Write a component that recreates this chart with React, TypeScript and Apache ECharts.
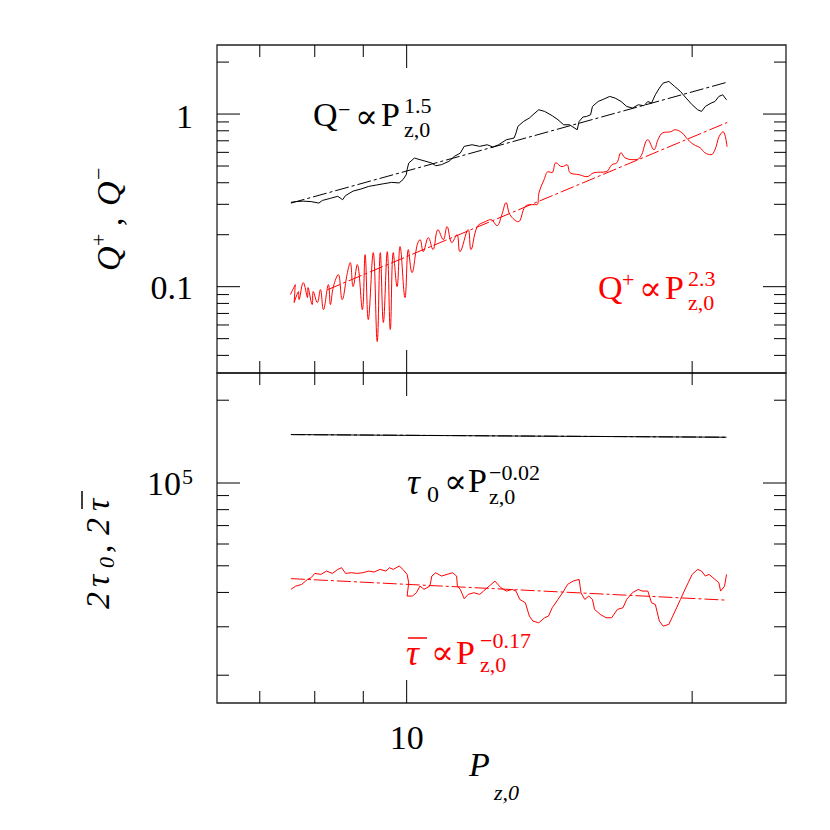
import { useEffect, useRef } from 'react';
import * as echarts from 'echarts';

const FONT = '"Liberation Serif", "DejaVu Serif", serif';
const RED = '#ff0000';
const BLACK = '#000000';

// axis ranges (log axes)
const xRange = [6.30957, 25.1189];
const qRange = [0.0316228, 2.51189];
const tauRange = [15848.9, 251189];

// ticks
const xMinorTicks = [7, 8, 9, 20];
const xMajorTicks = [10];
const xMajorLabels = ['10'];
const qMinorTicks = [0.04, 0.05, 0.06, 0.07, 0.08, 0.09, 0.2, 0.3, 0.4, 0.5, 0.6, 0.7, 0.8, 0.9, 2];
const qMajorTicks = [0.1, 1];
const qMajorLabels = ['0.1', '1'];
const tauMinorTicks = [20000, 30000, 40000, 50000, 60000, 70000, 80000, 90000, 200000];
const tauMajorTicks = [100000];

// Q- (black) data
const qMinusData: [number, number][] = [
  [7.55, 0.308], [7.64, 0.311], [7.78, 0.313], [7.93, 0.311], [8.08, 0.305], [8.15, 0.316], [8.31, 0.325],
  [8.46, 0.334], [8.56, 0.319], [8.62, 0.337], [8.78, 0.358], [8.95, 0.368], [9.12, 0.381], [9.29, 0.388],
  [9.46, 0.395], [9.64, 0.402], [9.82, 0.399], [9.91, 0.417], [9.99, 0.445], [10.01, 0.476], [10.05, 0.52],
  [10.19, 0.556], [10.33, 0.544], [10.48, 0.532], [10.63, 0.52], [10.73, 0.502], [10.88, 0.509], [11.08, 0.532],
  [11.23, 0.569], [11.39, 0.594], [11.5, 0.65], [11.72, 0.664], [11.94, 0.65], [12.16, 0.664], [12.33, 0.644],
  [12.5, 0.664], [12.74, 0.71], [12.98, 0.726], [13.04, 0.776], [13.1, 0.848], [13.28, 0.906], [13.47, 0.948],
  [13.59, 0.991], [13.78, 1.059], [13.98, 1.036], [14.24, 0.978], [14.44, 0.927], [14.64, 0.867], [14.85, 0.867],
  [15.13, 0.811], [15.2, 0.906], [15.34, 0.961], [15.48, 0.969], [15.63, 0.991], [15.7, 1.107], [15.92, 1.183],
  [16.14, 1.221], [16.37, 1.265], [16.59, 1.237], [16.83, 1.183], [17.06, 1.107], [17.3, 1.083], [17.55, 1.132],
  [17.79, 1.117], [17.96, 1.183], [18.12, 1.157], [18.29, 1.293], [18.47, 1.413], [18.64, 1.511], [18.9, 1.545],
  [19.17, 1.445], [19.44, 1.352], [19.71, 1.237], [20.0, 1.132], [20.27, 1.059], [20.46, 1.036], [20.65, 1.107],
  [20.94, 1.157], [21.14, 1.183], [21.34, 1.265], [21.54, 1.293], [21.74, 1.21],
];
const qMinusFit: [number, number][] = [[7.55, 0.305], [21.78, 1.53]];

// Q+ (red) data
const qPlusData: [number, number][] = [
  [7.54, 0.09], [7.63, 0.1028], [7.61, 0.0809], [7.69, 0.0937], [7.7, 0.0842], [7.78, 0.1056], [7.86, 0.0865],
  [7.87, 0.0988], [7.95, 0.0788], [7.97, 0.0937], [8.05, 0.0809], [8.11, 0.0962], [8.17, 0.0737], [8.27, 0.1028],
  [8.31, 0.0788], [8.37, 0.1001], [8.47, 0.1175], [8.55, 0.0842], [8.66, 0.1207], [8.72, 0.1379], [8.78, 0.1001],
  [8.87, 0.1342], [8.98, 0.0737], [9.04, 0.1533], [9.11, 0.0645], [9.22, 0.1575], [9.31, 0.0481], [9.38, 0.1575],
  [9.45, 0.062], [9.54, 0.1596], [9.61, 0.0565], [9.68, 0.1575], [9.77, 0.1001], [9.84, 0.1706], [9.96, 0.0865],
  [10.04, 0.164], [10.13, 0.1207], [10.26, 0.1753], [10.33, 0.1873], [10.41, 0.1596], [10.54, 0.1924],
  [10.66, 0.164], [10.79, 0.214], [10.93, 0.1873], [11.03, 0.2228], [11.16, 0.18], [11.3, 0.2002], [11.38, 0.1596],
  [11.61, 0.214], [11.69, 0.164], [11.87, 0.2228], [12.1, 0.238], [12.27, 0.2445], [12.45, 0.2258], [12.6, 0.2614],
  [12.73, 0.3067], [12.85, 0.2614], [13.11, 0.238], [13.33, 0.2907], [13.53, 0.2986], [13.72, 0.2986],
  [13.79, 0.3504], [13.96, 0.4168], [14.1, 0.4636], [14.23, 0.4574], [14.37, 0.5226], [14.58, 0.4955],
  [14.76, 0.5088], [14.87, 0.4574], [15.2, 0.4454], [15.49, 0.4337], [15.76, 0.4574], [16.23, 0.4636],
  [16.46, 0.5088], [16.66, 0.5226], [16.83, 0.597], [16.99, 0.5587], [17.33, 0.544], [17.62, 0.5587],
  [17.96, 0.71], [18.23, 0.6215], [18.41, 0.71], [18.63, 0.7795], [18.99, 0.7901], [19.18, 0.8112],
  [19.51, 0.7795], [19.8, 0.71], [20.09, 0.6643], [20.39, 0.6383], [20.63, 0.597], [20.94, 0.5813],
  [21.14, 0.6215], [21.35, 0.7389], [21.56, 0.7901], [21.77, 0.6468],
];
const qPlusFit: [number, number][] = [[8.25, 0.096], [21.78, 0.894]];

// tau_0 (black)
const tau0Data: [number, number][] = [
  [7.55, 150000], [10.0, 149000], [13.0, 148200], [16.0, 147600], [19.0, 147100], [21.74, 146700],
];
const tau0Fit: [number, number][] = [[7.55, 150000], [21.74, 146700]];

// tau-bar (red)
const tauBarData: [number, number][] = [
  [7.55, 41030], [7.64, 42190], [7.75, 42780], [7.86, 44610], [7.93, 45240], [8.0, 46910], [8.12, 46520],
  [8.23, 47830], [8.35, 46910], [8.46, 48510], [8.54, 49200], [8.62, 46910], [8.74, 47180], [8.87, 46910],
  [8.99, 47180], [9.12, 47830], [9.24, 47440], [9.37, 48510], [9.51, 47830], [9.59, 49200], [9.68, 48510],
  [9.82, 49890], [9.91, 48510], [10.01, 46520], [10.05, 43390], [10.01, 38800], [10.14, 38800], [10.24, 39900],
  [10.33, 42190], [10.43, 41030], [10.58, 42190], [10.63, 45880], [10.73, 47180], [10.88, 45880], [11.03, 46520],
  [11.18, 47180], [11.29, 45880], [11.31, 42190], [11.39, 41030], [11.5, 37940], [11.61, 39340], [11.77, 39900],
  [11.94, 39340], [12.05, 40460], [12.22, 42190], [12.39, 43990], [12.57, 41610], [12.74, 40460], [12.92, 41030],
  [13.04, 40460], [13.16, 37730], [13.34, 36690], [13.47, 32810], [13.59, 31460], [13.78, 31030], [13.98, 32360],
  [14.11, 32810], [14.24, 35190], [14.44, 37730], [14.64, 40460], [14.78, 42780], [14.98, 43990], [15.2, 44610],
  [15.27, 39900], [15.41, 37730], [15.56, 38800], [15.7, 37730], [15.78, 34700], [16.0, 33280], [16.23, 32360],
  [16.45, 32360], [16.68, 34700], [16.91, 35190], [17.06, 37730], [17.3, 39900], [17.55, 41030], [17.71, 40460],
  [17.96, 40460], [18.12, 36690], [18.29, 36180], [18.47, 31460], [18.64, 30170], [18.9, 30600], [19.08, 32810],
  [19.26, 35190], [19.44, 37730], [19.62, 40460], [19.81, 43390], [20.0, 46520], [20.27, 48510], [20.46, 47830],
  [20.65, 45880], [20.84, 46520], [21.14, 44610], [21.34, 43390], [21.43, 40460], [21.64, 42190], [21.74, 46520],
];
const tauBarFit: [number, number][] = [[7.55, 44900], [21.74, 37500]];

const font = (s: number, it?: boolean) => `${it ? 'italic ' : ''}${s}px ${FONT}`;

function textEl(t: string, x: number, y: number, s: number, color: string, it?: boolean, align = 'left', lineHeight?: number) {
  const style: any = {
    text: t,
    fill: color,
    font: font(s, it),
    align,
    verticalAlign: 'middle',
    textAlign: align,
    textVerticalAlign: 'middle',
  };
  if (lineHeight) style.lineHeight = lineHeight;
  return { type: 'text', x, y, silent: true, style };
}

function xTicks(grid: number, ticks: number[], len: number, yr: number[], labels?: string[]) {
  return {
    type: 'custom',
    coordinateSystem: 'cartesian2d',
    xAxisIndex: grid,
    yAxisIndex: grid,
    silent: true,
    z: 5,
    data: ticks.map((v) => [v, yr[0]]),
    renderItem: (params: any, api: any) => {
      const v = api.value(0);
      const b = api.coord([v, yr[0]]);
      const t = api.coord([v, yr[1]]);
      const children: any[] = [
        { type: 'line', shape: { x1: b[0], y1: b[1], x2: b[0], y2: b[1] - len }, style: { stroke: BLACK, lineWidth: 1 } },
        { type: 'line', shape: { x1: t[0], y1: t[1], x2: t[0], y2: t[1] + len }, style: { stroke: BLACK, lineWidth: 1 } },
      ];
      if (labels) children.push(textEl(labels[params.dataIndex], b[0], b[1] + 34, 34, BLACK, false, 'center'));
      return { type: 'group', children };
    },
  };
}

type LP = { t: string; dx: number; dy: number; s: number; a: string };

function yTicks(grid: number, ticks: number[], len: number, labels?: LP[][]) {
  return {
    type: 'custom',
    coordinateSystem: 'cartesian2d',
    xAxisIndex: grid,
    yAxisIndex: grid,
    silent: true,
    z: 5,
    data: ticks.map((v) => [xRange[0], v]),
    renderItem: (params: any, api: any) => {
      const v = api.value(1);
      const l = api.coord([xRange[0], v]);
      const r = api.coord([xRange[1], v]);
      const children: any[] = [
        { type: 'line', shape: { x1: l[0], y1: l[1], x2: l[0] + len, y2: l[1] }, style: { stroke: BLACK, lineWidth: 1 } },
        { type: 'line', shape: { x1: r[0], y1: r[1], x2: r[0] - len, y2: r[1] }, style: { stroke: BLACK, lineWidth: 1 } },
      ];
      if (labels) {
        labels[params.dataIndex].forEach((p) => children.push(textEl(p.t, l[0] + p.dx, l[1] + p.dy, p.s, BLACK, false, p.a)));
      }
      return { type: 'group', children };
    },
  };
}

function lineSeries(grid: number, data: [number, number][], color: string, dashed: boolean, smooth: number | boolean = false) {
  return {
    type: 'line',
    xAxisIndex: grid,
    yAxisIndex: grid,
    data,
    symbol: 'none',
    showSymbol: false,
    smooth,
    clip: true,
    silent: true,
    z: dashed ? 3 : 2,
    lineStyle: { color, width: 1, type: dashed ? [14, 3, 3, 3] : 'solid' },
  };
}

// [text, left x, center y, size, italic]
type Piece = [string, number, number, number, boolean?];
const mathText = (pieces: Piece[], color: string) => pieces.map((p) => textEl(p[0], p[1], p[2], p[3], color, p[4]));
// stacked superscript / subscript: [sup, sub, left x, center y]
type Stack = [string, string, number, number];
const stackText = (s: Stack, color: string, size = 22, lh = 24) => textEl(`${s[0]}\n${s[1]}`, s[2], s[3], size, color, false, 'left', lh);

const annoQMinus: Piece[] = [['Q', 313, 114, 34], ['−', 338, 109, 22], ['∝', 355, 116, 34], ['P', 381, 114, 34]];
const annoQMinusScript: Stack = ['1.5', 'z,0', 404, 117];
const annoQPlus: Piece[] = [['Q', 598, 287, 34], ['+', 622, 279, 22], ['∝', 639, 288, 34], ['P', 665, 287, 34]];
const annoQPlusScript: Stack = ['2.3', 'z,0', 688, 290];
const annoTau0: Piece[] = [['τ', 407, 482, 36, true], ['0', 427, 494, 24], ['∝', 444, 481, 34], ['P', 468, 480, 34]];
const annoTau0Script: Stack = ['−0.02', 'z,0', 489, 484];
const annoTauBar: Piece[] = [['τ', 406, 653, 36, true], ['∝', 431, 652, 34], ['P', 456, 652, 34]];
const annoTauBarScript: Stack = ['−0.17', 'z,0', 480, 652];
const xTitle: Piece[] = [['P', 469, 764, 34, true], ['z,0', 494, 792, 22, true]];

const qTitleLocal: Piece[] = [['Q', -56, 0, 34, true], ['+', -31, -10, 22], [',', -11, 2, 34], ['Q', 9, 0, 34, true], ['−', 35, -10, 22]];
const tauTitleLocal: Piece[] = [['2', -66, 0, 34, true], ['τ', -44, 0, 34, true], ['0', -25, 9, 22, true], [',', -10, 2, 34], ['2', 8, 0, 34, true], ['τ', 32, 0, 34, true]];

const option: any = {
  animation: false,
  backgroundColor: '#ffffff',
  textStyle: { fontFamily: FONT },
  grid: [
    { left: 217, top: 45, width: 569, height: 328, show: true, borderColor: '#222', borderWidth: 1.3, backgroundColor: 'transparent' },
    { left: 217, top: 373, width: 569, height: 330, show: true, borderColor: '#222', borderWidth: 1.3, backgroundColor: 'transparent' },
  ],
  xAxis: [0, 1].map((g) => ({
    type: 'log', logBase: 10, gridIndex: g, min: xRange[0], max: xRange[1],
    axisLine: { show: false }, axisTick: { show: false }, axisLabel: { show: false }, splitLine: { show: false },
  })),
  yAxis: [
    { type: 'log', logBase: 10, gridIndex: 0, min: qRange[0], max: qRange[1], axisLine: { show: false }, axisTick: { show: false }, axisLabel: { show: false }, splitLine: { show: false } },
    { type: 'log', logBase: 10, gridIndex: 1, min: tauRange[0], max: tauRange[1], axisLine: { show: false }, axisTick: { show: false }, axisLabel: { show: false }, splitLine: { show: false } },
  ],
  series: [
    lineSeries(0, qMinusData, BLACK, false),
    lineSeries(0, qMinusFit, BLACK, true),
    lineSeries(0, qPlusData, RED, false, 0.4),
    lineSeries(0, qPlusFit, RED, true),
    lineSeries(1, tau0Data, BLACK, false),
    lineSeries(1, tau0Fit, BLACK, true),
    lineSeries(1, tauBarData, RED, false),
    lineSeries(1, tauBarFit, RED, true),
    xTicks(0, xMinorTicks, 12, qRange),
    xTicks(0, xMajorTicks, 23, qRange),
    xTicks(1, xMinorTicks, 12, tauRange),
    xTicks(1, xMajorTicks, 23, tauRange, xMajorLabels),
    yTicks(0, qMinorTicks, 12),
    yTicks(0, qMajorTicks, 23, [
      [{ t: qMajorLabels[0], dx: -24, dy: 1, s: 34, a: 'right' }],
      [{ t: qMajorLabels[1], dx: -24, dy: 2, s: 34, a: 'right' }],
    ]),
    yTicks(1, tauMinorTicks, 12),
    yTicks(1, tauMajorTicks, 23, [
      [{ t: '10', dx: -36, dy: 0, s: 34, a: 'right' }, { t: '5', dx: -35, dy: -7, s: 22, a: 'left' }],
    ]),
  ],
  graphic: {
    elements: [
      ...mathText(annoQMinus, BLACK),
      stackText(annoQMinusScript, BLACK),
      ...mathText(annoQPlus, RED),
      stackText(annoQPlusScript, RED),
      ...mathText(annoTau0, BLACK),
      stackText(annoTau0Script, BLACK),
      ...mathText(annoTauBar, RED),
      stackText(annoTauBarScript, RED),
      { type: 'line', silent: true, shape: { x1: 408, y1: 638, x2: 427, y2: 638 }, style: { stroke: RED, lineWidth: 1.5 } },
      ...mathText(xTitle, BLACK),
      { type: 'group', x: 108, y: 215, rotation: Math.PI / 2, children: mathText(qTitleLocal, BLACK) },
      {
        type: 'group', x: 97, y: 543, rotation: Math.PI / 2,
        children: [
          ...mathText(tauTitleLocal, BLACK),
          { type: 'line', silent: true, shape: { x1: 34, y1: -15, x2: 52, y2: -15 }, style: { stroke: BLACK, lineWidth: 1.5 } },
        ],
      },
    ],
  },
};

export default function App() {
  const ref = useRef<HTMLDivElement>(null);
  useEffect(() => {
    const chart = echarts.init(ref.current as HTMLDivElement, null, { renderer: 'svg' });
    chart.setOption(option);
    return () => chart.dispose();
  }, []);
  return (
    <div
      ref={ref}
      style={{ position: 'fixed', left: 0, top: 0, width: 830, height: 830, background: '#ffffff' }}
    />
  );
}
